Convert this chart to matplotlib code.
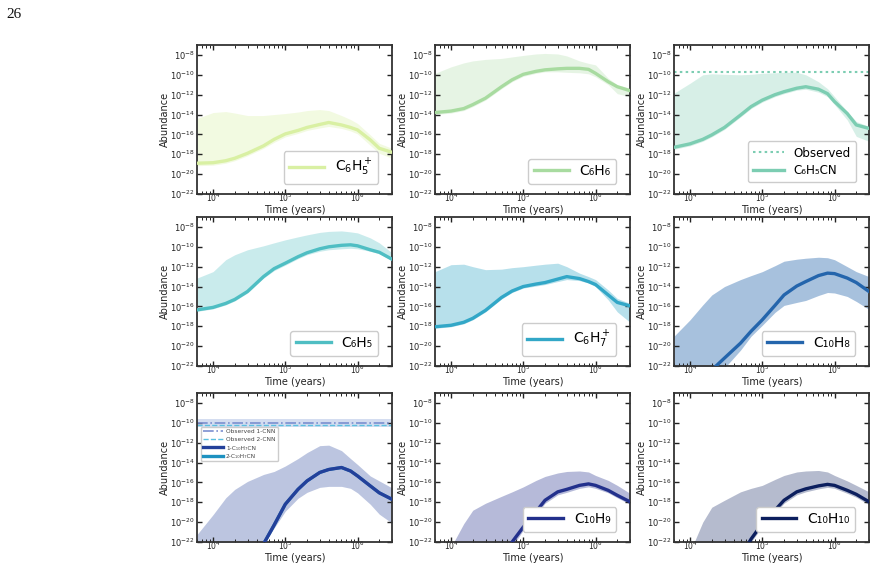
import numpy as np
import matplotlib
matplotlib.use("Agg")
import matplotlib.pyplot as plt
from matplotlib.ticker import FixedLocator, LogFormatterSciNotation, NullLocator, LogLocator
from matplotlib.lines import Line2D

# ---------------- data (log10 abundance) ----------------
time_years = [6e3, 1e4, 1.5e4, 2e4, 3e4, 5e4, 7e4, 1e5, 1.5e5, 2e5, 3e5, 4e5, 6e5, 8e5, 1e6, 1.5e6, 2e6, 3e6]

c6h5p_line = [-18.9, -18.85, -18.65, -18.4, -17.9, -17.15, -16.5, -15.95, -15.6, -15.3, -15.0, -14.8, -15.05, -15.3, -15.55, -16.55, -17.4, -17.8]
c6h5p_up   = [-14.4, -13.8, -13.7, -13.85, -14.1, -14.1, -14.0, -13.9, -13.75, -13.6, -13.5, -13.6, -14.1, -14.5, -14.9, -16.05, -16.9, -17.4]
c6h5p_low  = [-19.15, -19.1, -18.9, -18.65, -18.15, -17.4, -16.8, -16.25, -15.9, -15.6, -15.35, -15.2, -15.4, -15.65, -15.95, -17.1, -17.9, -18.4]

c6h6_line = [-13.8, -13.65, -13.4, -13.0, -12.35, -11.2, -10.5, -9.95, -9.65, -9.5, -9.4, -9.35, -9.35, -9.45, -9.85, -10.7, -11.2, -11.6]
c6h6_up   = [-9.85, -9.2, -8.8, -8.6, -8.45, -8.35, -8.2, -8.05, -7.9, -7.85, -7.9, -8.1, -8.6, -8.85, -9.0, -10.35, -11.0, -11.35]
c6h6_low  = [-14.0, -13.85, -13.6, -13.2, -12.55, -11.4, -10.7, -10.15, -9.85, -9.7, -9.7, -9.75, -9.8, -9.9, -10.2, -11.0, -11.9, -12.2]

c6h5cn_line = [-17.3, -16.95, -16.5, -16.05, -15.3, -14.05, -13.2, -12.55, -12.0, -11.7, -11.35, -11.2, -11.45, -11.9, -12.7, -13.9, -15.05, -15.4]
c6h5cn_up   = [-11.85, -10.85, -10.0, -9.9, -9.95, -10.0, -9.95, -9.85, -9.8, -9.75, -9.75, -10.0, -10.7, -11.4, -12.2, -13.7, -14.7, -15.2]
c6h5cn_low  = [-17.5, -17.15, -16.7, -16.25, -15.5, -14.25, -13.4, -12.75, -12.2, -11.9, -11.55, -11.45, -11.75, -12.2, -13.0, -14.55, -16.2, -16.7]
c6h5cn_observed = 1.8e-10

c6h5_line = [-16.35, -16.1, -15.7, -15.3, -14.5, -13.0, -12.2, -11.65, -11.0, -10.6, -10.2, -10.0, -9.85, -9.8, -9.9, -10.3, -10.55, -11.25]
c6h5_up   = [-13.15, -12.5, -11.3, -10.8, -10.3, -9.9, -9.6, -9.3, -9.0, -8.8, -8.55, -8.45, -8.4, -8.5, -8.6, -9.1, -9.6, -10.6]
c6h5_low  = [-16.5, -16.25, -15.85, -15.45, -14.65, -13.15, -12.4, -11.85, -11.2, -10.8, -10.45, -10.3, -10.2, -10.15, -10.2, -10.45, -10.7, -11.4]

c6h7p_line = [-18.05, -17.9, -17.6, -17.2, -16.4, -15.1, -14.45, -14.0, -13.75, -13.6, -13.25, -13.0, -13.2, -13.5, -13.8, -14.85, -15.6, -15.95]
c6h7p_up   = [-12.5, -11.8, -11.75, -12.0, -12.3, -12.25, -12.1, -12.0, -11.85, -11.75, -11.65, -12.0, -12.65, -13.0, -13.3, -14.35, -15.2, -15.7]
c6h7p_low  = [-18.2, -18.05, -17.75, -17.35, -16.55, -15.25, -14.6, -14.15, -13.95, -13.8, -13.5, -13.3, -13.4, -13.65, -14.0, -15.35, -16.55, -17.6]

c10h8_line = [-27.0, -25.0, -23.6, -22.4, -21.2, -19.7, -18.5, -17.35, -15.9, -14.85, -13.95, -13.5, -12.9, -12.65, -12.7, -13.15, -13.6, -14.5]
c10h8_up   = [-19.0, -17.35, -15.85, -14.85, -14.0, -13.3, -12.9, -12.5, -11.9, -11.45, -11.25, -11.15, -11.05, -11.1, -11.3, -12.0, -12.5, -13.0]
c10h8_low  = [-30.0, -28.0, -26.5, -25.0, -22.2, -20.4, -19.0, -17.9, -16.6, -15.9, -15.6, -15.4, -14.9, -14.6, -14.65, -15.0, -15.5, -16.3]

cnn1_line = [-40.0, -32.0, -28.0, -26.5, -25.0, -22.2, -20.3, -18.2, -16.7, -15.85, -15.0, -14.7, -14.5, -14.85, -15.35, -16.35, -17.05, -17.7]
cnn1_up   = [-21.25, -19.25, -17.55, -16.7, -15.9, -15.2, -14.9, -14.35, -13.6, -13.0, -12.3, -12.25, -12.8, -13.6, -14.2, -15.35, -15.85, -16.55]
cnn1_low  = [-45.0, -38.0, -33.0, -30.0, -27.0, -22.3, -20.6, -18.9, -17.6, -17.0, -16.5, -16.4, -16.4, -16.6, -17.05, -18.2, -19.2, -20.1]
cnn_observed_1 = 1.0e-10
cnn_observed_2 = 6.3e-11
cnn_observed_band = [3.4e-11, 2.3e-10]

c10h9_line = [-40.0, -33.0, -30.0, -28.0, -26.0, -24.0, -22.0, -20.5, -18.95, -17.8, -16.95, -16.7, -16.3, -16.15, -16.3, -16.8, -17.3, -17.95]
c10h9_up   = [-26.0, -22.5, -20.15, -18.8, -18.1, -17.4, -16.95, -16.45, -15.8, -15.4, -15.05, -14.9, -14.85, -14.95, -15.3, -15.8, -16.3, -17.1]
c10h9_low  = [-42.0, -35.0, -32.0, -30.0, -28.0, -25.0, -22.5, -20.8, -19.3, -18.1, -17.25, -17.0, -16.6, -16.45, -16.6, -17.05, -17.55, -18.2]

c10h10_line = [-40.0, -33.0, -30.0, -28.0, -26.0, -23.5, -21.7, -20.15, -18.8, -17.8, -16.95, -16.65, -16.35, -16.2, -16.3, -16.8, -17.2, -17.95]
c10h10_up   = [-27.0, -23.0, -20.0, -18.5, -17.8, -16.95, -16.6, -16.3, -15.7, -15.3, -14.95, -14.85, -14.8, -14.95, -15.3, -15.85, -16.3, -16.95]
c10h10_low  = [-42.0, -35.0, -32.0, -30.0, -28.0, -24.0, -22.0, -20.45, -19.1, -18.1, -17.25, -16.95, -16.65, -16.5, -16.6, -17.1, -17.5, -18.25]

labels = [r"$\mathrm{C_6H_5^+}$", "C₆H₆", "C₆H₅CN", "C₆H₅", r"$\mathrm{C_6H_7^+}$", "C₁₀H₈",
          "1-C₁₀H₇CN", "C₁₀H₉", "C₁₀H₁₀"]
colors = ["#d9f0a3", "#a8dba0", "#7ccdb2", "#4fbec3", "#32a7c7", "#2465ac",
          "#23409a", "#22308c", "#0c1f5e"]
series = [(c6h5p_line, c6h5p_up, c6h5p_low), (c6h6_line, c6h6_up, c6h6_low),
          (c6h5cn_line, c6h5cn_up, c6h5cn_low), (c6h5_line, c6h5_up, c6h5_low),
          (c6h7p_line, c6h7p_up, c6h7p_low), (c10h8_line, c10h8_up, c10h8_low),
          (cnn1_line, cnn1_up, cnn1_low), (c10h9_line, c10h9_up, c10h9_low),
          (c10h10_line, c10h10_up, c10h10_low)]
fill_alpha = [0.32, 0.28, 0.3, 0.3, 0.35, 0.4, 0.3, 0.33, 0.3]
cnn2_color = "#1d91c0"

# ---------------- figure ----------------
W, H = 878, 568
fig = plt.figure(figsize=(W / 100, H / 100), dpi=100)
col_left = [197, 435, 674]
row_top = [45, 217, 393]
aw, ah = 195, 149

t = np.array(time_years)
ytick_vals = [1e-22, 1e-20, 1e-18, 1e-16, 1e-14, 1e-12, 1e-10, 1e-8]

for i in range(9):
    r, c = divmod(i, 3)
    ax = fig.add_axes([col_left[c] / W, 1 - (row_top[r] + ah) / H, aw / W, ah / H])
    line, up, low = series[i]
    col = colors[i]
    ax.fill_between(t, 10.0 ** np.array(low), 10.0 ** np.array(up), color=col,
                    alpha=fill_alpha[i], lw=0)
    if i == 2:
        h_obs = ax.axhline(c6h5cn_observed, color=col, ls=(0, (1.2, 1.6)), lw=1.5,
                           label="Observed")
    if i == 6:
        ax.axhspan(cnn_observed_band[0], cnn_observed_band[1], color="#c3cfea", alpha=0.7, lw=0)
        ax.axhline(cnn_observed_1, color="#7b8fd0", ls="-.", lw=1.2)
        ax.axhline(cnn_observed_2, color="#5cc0e0", ls="--", lw=1.0)
        ax.plot(t, 10.0 ** np.array(line), color=cnn2_color, lw=2.2, zorder=2)
    hl, = ax.plot(t, 10.0 ** np.array(line), color=col, lw=2.4, label=labels[i], zorder=3)

    ax.set_xscale("log")
    ax.set_yscale("log")
    ax.set_xlim(6e3, 3e6)
    ax.set_ylim(1e-22, 1e-7)
    ax.yaxis.set_major_locator(FixedLocator(ytick_vals))
    ax.yaxis.set_major_formatter(LogFormatterSciNotation())
    ax.yaxis.set_minor_locator(NullLocator())
    ax.xaxis.set_major_locator(FixedLocator([1e4, 1e5, 1e6]))
    ax.xaxis.set_minor_locator(LogLocator(base=10, subs=np.arange(2, 10)))
    ax.tick_params(which="both", direction="in", top=True, right=True, color="#222222")
    ax.tick_params(which="major", length=3.5, width=1.0)
    ax.tick_params(which="minor", length=2, width=0.7)
    ax.tick_params(axis="y", labelsize=6, pad=1.5, labelcolor="#222222")
    ax.tick_params(axis="x", labelsize=5.5, pad=-2, labelcolor="#222222")
    for sp in ax.spines.values():
        sp.set_color("#333333")
        sp.set_linewidth(1.3)
    ax.set_xlabel("Time (years)", fontsize=7, labelpad=1, color="#222222")
    ax.set_ylabel("Abundance", fontsize=7, labelpad=0, color="#222222")

    if i == 6:
        hh = [Line2D([], [], color="#7b8fd0", ls="-.", lw=1.2),
              Line2D([], [], color="#5cc0e0", ls="--", lw=1.0),
              Line2D([], [], color=col, lw=2.4),
              Line2D([], [], color=cnn2_color, lw=2.4)]
        ax.legend(hh, ["Observed 1-CNN", "Observed 2-CNN", "1-C₁₀H₇CN", "2-C₁₀H₇CN"],
                  loc="upper left", bbox_to_anchor=(0.02, 0.775), borderaxespad=0,
                  fontsize=4.2, handlelength=3.4, borderpad=0.4, labelspacing=0.55,
                  handletextpad=0.5, framealpha=1, edgecolor="#cccccc", fancybox=True,
                  labelcolor="#444444")
    elif i == 2:
        ax.legend(handles=[h_obs, hl], loc="lower right", fontsize=8.6, handlelength=2.6,
                  framealpha=1, edgecolor="#cccccc", borderpad=0.45, labelspacing=0.35,
                  bbox_to_anchor=(0.935, 0.08), borderaxespad=0)
    else:
        ax.legend(handles=[hl], loc="lower right", fontsize=10, handlelength=2.5,
                  framealpha=1, edgecolor="#cccccc", borderpad=0.4,
                  bbox_to_anchor=(0.93, 0.068), borderaxespad=0)

fig.text(6 / W, 1 - 18 / H, "26", fontsize=11, family="Liberation Serif", color="#111111")

fig.savefig("out.png", dpi=100)
